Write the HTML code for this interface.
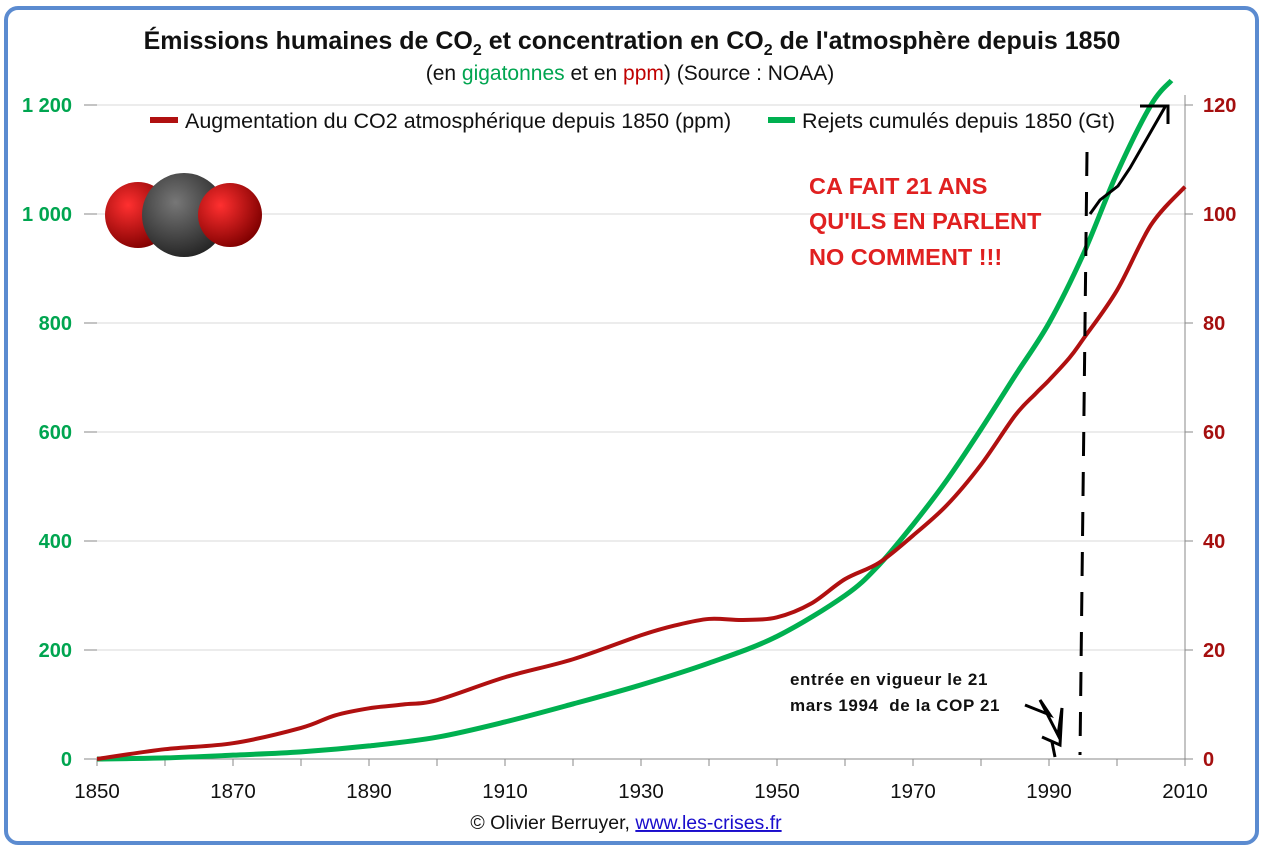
<!DOCTYPE html>
<html><head><meta charset="utf-8"><style>
body{margin:0;background:#fff;}
svg text{font-family:"Liberation Sans",sans-serif;}
</style></head><body>
<svg width="1264" height="849" viewBox="0 0 1264 849">
<defs>
<radialGradient id="gr" cx="0.35" cy="0.35" r="0.7"><stop offset="0" stop-color="#ff3030"/><stop offset="1" stop-color="#800000"/></radialGradient>
<radialGradient id="gg" cx="0.4" cy="0.35" r="0.7"><stop offset="0" stop-color="#777"/><stop offset="1" stop-color="#222"/></radialGradient>
</defs>
<rect x="6" y="8" width="1251" height="835" rx="12" fill="#fff" stroke="#5b8bd0" stroke-width="4"/>
<text x="632" y="49" text-anchor="middle" font-size="25" font-weight="bold" fill="#111">Émissions humaines de CO<tspan font-size="16" dy="6">2</tspan><tspan dy="-6"> et concentration en CO</tspan><tspan font-size="16" dy="6">2</tspan><tspan dy="-6"> de l'atmosphère depuis 1850</tspan></text>
<text x="630" y="80" text-anchor="middle" font-size="21" fill="#111">(en <tspan fill="#00a550">gigatonnes</tspan> et en <tspan fill="#c00000">ppm</tspan>) (Source : NOAA)</text>
<g id="grid"></g>
<g id="axes"></g>
<g>
<circle cx="138" cy="215" r="33" fill="url(#gr)"/>
<circle cx="184" cy="215" r="42" fill="url(#gg)"/>
<circle cx="230" cy="215" r="32" fill="url(#gr)"/>
</g>
<g id="series"></g>
<g>
<line x1="150" y1="120" x2="178" y2="120" stroke="#b01010" stroke-width="6"/>
<text x="185" y="128" font-size="21.5" fill="#111">Augmentation du CO2 atmosphérique depuis 1850 (ppm)</text>
<line x1="768" y1="120" x2="795" y2="120" stroke="#00b050" stroke-width="6"/>
<text x="802" y="128" font-size="21.5" fill="#111">Rejets cumulés depuis 1850 (Gt)</text>
</g>
<g font-size="23.5" font-weight="bold" fill="#e02020">
<text x="809" y="194">CA FAIT 21 ANS</text>
<text x="809" y="229">QU'ILS EN PARLENT</text>
<text x="809" y="265">NO COMMENT !!!</text>
</g>
<g font-size="17" font-weight="bold" fill="#111" letter-spacing="0.6">
<text x="790" y="685">entrée en vigueur le 21</text>
<text x="790" y="711" xml:space="preserve">mars 1994  de la COP 21</text>
</g>
<g fill="none" stroke="#000" stroke-width="3">
<path d="M1087 152 L1080 755" stroke-dasharray="24 16"/>
<path d="M1090 214 L1100 200 L1118 186 L1130 168 L1165 107 M1140 106 L1168 106 L1168 124"/>
<path d="M1025 705 L1050 715 L1040 700 L1058 735 L1062 708 L1060 745 L1042 737 M1052 742 L1055 757"/>
</g>
<text x="626" y="829" text-anchor="middle" font-size="19.5" fill="#111">© Olivier Berruyer, <tspan fill="#1a0dcc" text-decoration="underline">www.les-crises.fr</tspan></text>
</svg>
<script>
const years=[1850,1860,1870,1880,1885,1890,1895,1900,1910,1920,1930,1935,1940,1945,1950,1955,1960,1965,1970,1975,1980,1985,1988,1990,1993,1995,2000,2005,2010];
const ppm=[0,1.8,2.9,5.7,8.0,9.3,10,10.8,15,18.3,22.7,24.5,25.7,25.5,26,28.5,33,36,41,46.6,54,63,67,69.5,73.6,77,86,98,105];
const gYears=[1850,1860,1870,1880,1890,1900,1910,1920,1930,1940,1950,1960,1965,1970,1975,1980,1985,1990,1995,2000,2005,2008];
const gt=[0,2,7,13,24,40,68,101,136,176,225,300,356,430,512,605,703,800,925,1075,1200,1245];
const xTicks=[1850,1870,1890,1910,1930,1950,1970,1990,2010];
const leftTicks=[0,200,400,600,800,1000,1200];
const leftLabels=["0","200","400","600","800","1 000","1 200"];
const rightTicks=[0,20,40,60,80,100,120];
const NS="http://www.w3.org/2000/svg";
const X=y=>97+(y-1850)*(1088/160);
const YL=v=>759-v*(654/1200);
const YR=v=>759-v*(654/120);
function mk(t,a,p){const e=document.createElementNS(NS,t);for(const k in a)e.setAttribute(k,a[k]);p.appendChild(e);return e;}
const grid=document.getElementById('grid'),axes=document.getElementById('axes'),series=document.getElementById('series');
leftTicks.forEach((v,i)=>{
 const l=mk('line',{x1:97,x2:1185,y1:YL(v),y2:YL(v),stroke:i==0?'#888':'#d9d9d9','stroke-width':1},grid);
 
 
 const t=mk('text',{x:72,y:YL(v)+7,'text-anchor':'end','font-size':20,'font-weight':'bold',fill:'#00a550'},axes);
 t.textContent=leftLabels[i];
 
 
 const k=mk('line',{x1:84,x2:97,y1:YL(v),y2:YL(v),stroke:'#888'},axes);
 
 
});
rightTicks.forEach(v=>{
 const t=mk('text',{x:1203,y:YR(v)+7,'font-size':20,'font-weight':'bold',fill:'#a50f0f'},axes);
 t.textContent=v;
 
 
 const k=mk('line',{x1:1185,x2:1193,y1:YR(v),y2:YR(v),stroke:'#888'},axes);
 
 
});
const ra=mk('line',{x1:1185,x2:1185,y1:95,y2:759,stroke:'#888'},axes);


for(let y=1850;y<=2010;y+=10){
 const k=mk('line',{x1:X(y),x2:X(y),y1:759,y2:766,stroke:'#888'},axes);
 
 
}
xTicks.forEach(y=>{
 const t=mk('text',{x:X(y),y:798,'text-anchor':'middle','font-size':20.5,fill:'#111'},axes);
 t.textContent=y;
 
 
});
function smooth(pts){let d='M'+pts[0][0]+' '+pts[0][1];for(let i=0;i<pts.length-1;i++){const p0=pts[Math.max(0,i-1)],p1=pts[i],p2=pts[i+1],p3=pts[Math.min(pts.length-1,i+2)];const c1=[p1[0]+(p2[0]-p0[0])/6,p1[1]+(p2[1]-p0[1])/6],c2=[p2[0]-(p3[0]-p1[0])/6,p2[1]-(p3[1]-p1[1])/6];d+=` C${c1[0]} ${c1[1]} ${c2[0]} ${c2[1]} ${p2[0]} ${p2[1]}`;}return d;}
const gp=mk('path',{d:smooth(gYears.map((y,i)=>[X(y),YL(gt[i])])),fill:'none',stroke:'#00b050','stroke-width':5,'stroke-linejoin':'round'},series);


const rp=mk('path',{d:smooth(years.map((y,i)=>[X(y),YR(ppm[i])])),fill:'none',stroke:'#b01010','stroke-width':4,'stroke-linejoin':'round'},series);


</script>
</body></html>
